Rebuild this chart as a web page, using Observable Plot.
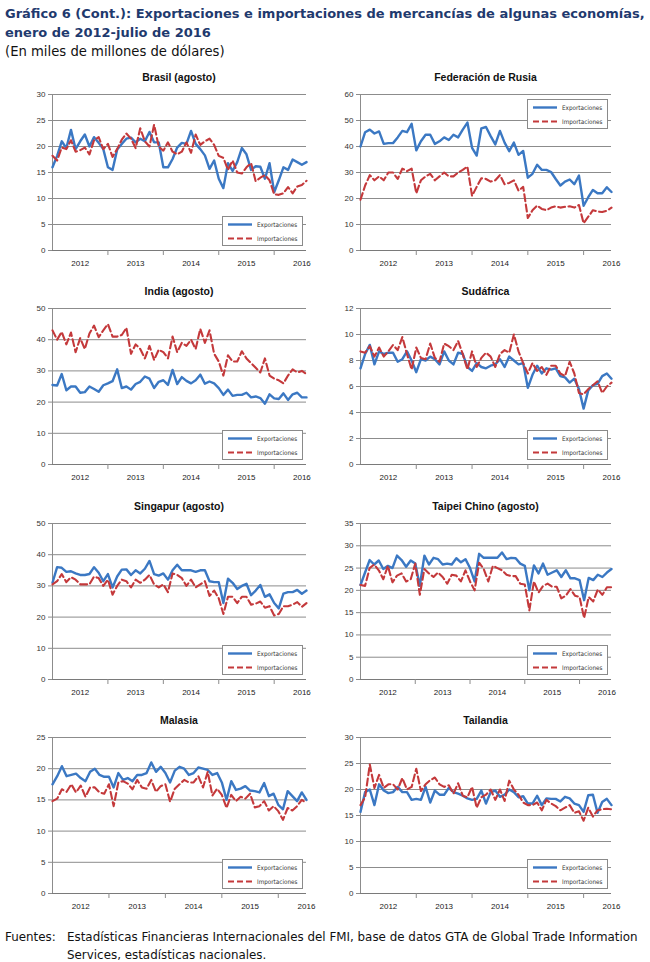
<!DOCTYPE html>
<html><head><meta charset="utf-8">
<script src="https://cdn.jsdelivr.net/npm/d3@7"></script>
<script src="https://cdn.jsdelivr.net/npm/@observablehq/plot@0.6"></script>
<style>
body{margin:0;background:#fff;}
#root{position:relative;width:650px;height:962px;overflow:hidden;background:#fff;}
.t{position:absolute;white-space:nowrap;}
.h1{left:5px;font-family:"DejaVu Sans",Verdana,sans-serif;font-weight:bold;color:#1F3A6E;font-size:13px;line-height:16px;}
.sub{left:5px;font-family:"DejaVu Sans",Verdana,sans-serif;color:#111;font-size:13.2px;line-height:16px;}
.ptitle{font-family:"Liberation Sans",Arial,sans-serif;font-weight:bold;font-size:10.5px;color:#111;text-align:center;line-height:12px;}
.foot{font-family:"DejaVu Sans",Verdana,sans-serif;font-size:11.9px;color:#111;line-height:16px;}
.leg{position:absolute;width:81px;height:30px;border:1px solid #8a8a8a;background:#fff;box-sizing:border-box;}
.panel{position:absolute;}
</style></head><body><div id="root"></div>
<script>
// ---------------- DATA ----------------
const yearLabels = ["2012","2013","2014","2015","2016"];
const seriesNames = ["Exportaciones","Importaciones"];

const brasilExp = [16.0,18.2,21.0,19.7,23.2,19.5,21.0,22.3,20.0,21.8,20.7,19.5,
  16.0,15.5,19.4,20.5,21.5,21.7,20.8,21.5,21.0,22.8,20.8,20.8,
  16.0,16.0,17.6,19.8,20.7,20.5,23.0,20.5,19.5,18.3,15.7,17.3,
  13.8,12.0,16.8,15.3,17.0,19.7,18.5,15.5,16.2,16.1,13.8,16.8,
  11.2,13.5,16.0,15.5,17.5,17.0,16.5,17.0];
const brasilImp = [18.2,17.3,19.8,19.5,21.2,19.0,19.3,19.8,18.5,21.2,21.8,19.5,
  20.5,18.0,19.5,21.3,22.5,21.5,19.7,23.5,21.0,20.0,24.2,20.0,
  19.2,20.8,19.0,18.5,19.0,20.8,18.8,22.3,20.3,21.0,21.5,20.3,
  18.2,17.8,15.5,17.3,15.0,14.8,16.0,16.8,13.3,14.0,14.5,13.5,
  10.8,10.7,11.0,12.2,11.0,12.3,12.6,13.4];
const brasilTicks = [0,5,10,15,20,25,30];

const rusiaExp = [40,45.5,46.5,45,45.8,41,41.3,41.3,43.5,46,45.5,48.7,
  38.5,42,44.5,44.5,41,42,43.5,42.5,44.5,43.5,46.5,49.2,
  39.5,36.5,47,47.5,44,40.8,46,41.5,38.2,41.5,36.8,38.3,
  28,29.5,33,31,31,30.2,27.5,25,26.5,27.3,25.5,28.8,
  17.2,20.5,23.3,22,22,24.3,22.5];
const rusiaImp = [19.5,25,29,27,28.5,27,30,30,27.5,31.5,30.5,31.5,
  22,27,28.5,29.5,27,28.5,30,28.5,28.5,30,31,32.3,
  21,24.5,27.8,27.5,26.5,27,29,25.5,26,27,23,24.5,
  12.5,15.5,17.3,16,15.5,16.5,17,16.5,16.8,17,16.5,17.5,
  10.5,13,15.5,15,14.8,15.3,16.5];
const rusiaTicks = [0,10,20,30,40,50,60];

const indiaExp = [25.5,25.3,29,23.8,25,25,23,23.2,25,24.2,23.3,25.4,
  26,26.7,30.5,24.5,25,24,25.8,26.5,28.2,27.5,24.5,26.5,
  27,25.5,30.3,25.8,28,26.8,26,27,28.8,25.9,26.6,26,
  24.5,22.3,24,22,22.3,22.3,23,21.5,21.8,21.3,19.5,22.5,
  21.2,21,22.8,20.7,22.5,23,21.5,21.5];
const indiaImp = [43,40,42.5,38.5,42.3,36,40.5,37,42,44.5,40.8,43,
  45,41,41,41.5,43.8,35.5,38.5,37,34,38,33.5,36.8,
  36,34,41,36,39,38,40,37,43.5,39,43,35.5,
  33,28.5,35,33,33,36.3,34,32.5,31,29.5,34,28.5,
  27.5,27,26,28.5,30.5,29.5,30,29];
const indiaTicks = [0,10,20,30,40,50];

const sudafricaExp = [7.4,8.5,9.2,7.7,8.7,8.5,8.6,8.6,7.9,8.1,8.7,8.0,
  7.1,8.1,8.0,8.3,8.1,7.7,8.7,8.0,7.7,8.6,8.5,7.5,
  7.2,7.8,7.5,7.4,7.6,7.7,8.1,7.5,8.3,8.0,7.7,7.8,
  5.9,6.9,7.6,7.0,7.4,7.3,7.4,6.8,6.7,6.3,6.6,5.8,
  4.3,5.7,6.1,6.2,6.8,7.0,6.6];
const sudafricaImp = [8.7,8.6,9.1,8.3,9.0,8.3,8.7,9.2,8.8,9.8,8.5,7.3,
  9.0,8.2,8.1,9.3,8.2,7.9,9.3,9.1,8.8,9.5,8.5,7.3,
  8.7,7.5,8.2,8.6,8.3,7.5,8.5,8.8,8.6,10.0,8.7,7.8,
  7.0,7.8,7.2,7.5,6.9,7.6,7.6,7.0,6.8,7.9,7.0,5.5,
  5.4,5.8,6.1,6.4,5.5,6.0,6.3];
const sudafricaTicks = [0,2,4,6,8,10,12];

const singapurExp = [31,36,35.8,34.5,34.7,34,33.5,33.5,33.8,36,34.2,31.5,
  33.8,29.5,33,35.2,35.3,33.5,35,34,35.5,38,33.8,33.3,
  34,32,35,36.8,35,35,35,34.5,35,35,31.5,31.2,
  31.2,24.5,32.3,31,29,30,30.7,27,28.5,30.3,26.5,27.3,
  24.5,22.8,27.5,28,28,28.7,27.5,28.5];
const singapurImp = [30.5,31.5,33.8,31.2,32.8,32,30.5,30.5,30.5,33,32.5,30,
  32,27.2,30,32,31.5,29.5,32,31,32,33.5,30.5,29.5,
  30.5,28,34,33.5,32.5,30,32,29.5,30.5,31.5,26.8,28.5,
  26,21,26.5,26.5,24.5,26.5,26.5,24,24.3,25,23,23.5,
  20.5,21,23.5,23.5,24,24.8,23.3,24.5];
const singapurTicks = [0,10,20,30,40,50];

const taipeiExp = [21.2,24,26.8,25.8,26.7,24.8,25.5,25,27.8,26.8,25.3,26.7,
  26,21,27.8,25.8,27.3,27,25.8,26,25.8,27.2,26.3,27,
  25,22,28.2,27.3,27.3,27.3,27.3,28.5,27,27.3,27.2,26,
  25.5,20,25.6,23.8,26,23.5,24,24.5,23,24.5,22.7,22.7,
  22.3,17.8,22.8,22.3,23.5,23,24,24.8];
const taipeiImp = [21.2,21,25,25.8,24.5,22.5,25.5,21.8,23.3,23.8,22,22.5,
  26,19,24.8,23.8,23,24,23,21.5,23.5,23.3,22,24.5,
  22,20,26.2,24.8,22,25.5,25,24.5,23.5,23.2,23.2,21.5,
  21.3,15.5,22,19.5,21,21.5,20.8,20.8,18.2,18.8,20.3,18.8,
  18.5,13.8,18.5,17.5,20.2,19,20.7,20.7];
const taipeiTicks = [0,5,10,15,20,25,30,35];

const malasiaExp = [17.5,18.8,20.4,18.8,19,19.2,18.5,18,19.5,20,19,18.7,
  18.7,17,19.3,18.2,18.5,18,19,19,19.3,21,19.5,20.3,
  19.3,17.8,19.7,20.3,20,19,19.3,20.2,20,19.8,19,19.3,
  17.8,15,18,16.6,16.8,17.2,16.5,16.4,16.2,17.7,15.6,16,
  14.2,13.5,16.4,15.6,14.8,16.2,15];
const malasiaImp = [14.8,15.2,16.7,16.3,17.5,16.2,17.3,15.5,17,17,16.2,16,
  17.5,14,17.8,18,17.6,16.7,18.2,17,16.8,18.2,16.3,17.2,
  17.5,14.7,16.8,17.5,18.2,17.8,17.8,18.8,17,19.5,15.7,16.8,
  15.8,13.7,15.8,14.8,15.5,15.2,16,13.8,14,14.8,13.3,14,
  13.2,11.8,13.7,13.3,14,15,14.5];
const malasiaTicks = [0,5,10,15,20,25];

const tailandiaExp = [15.7,19.5,20,17,21,19.8,19.3,19.5,20.5,19.5,19.5,18,
  18.2,18,20.5,17.5,19.8,19,19,20.3,19.5,19.2,18.8,18.3,
  18,18.2,19.8,17.3,19.5,19.8,18.6,19,20,19.5,18.5,18.7,
  17.3,17.3,18.8,17,18.3,18.2,18.2,17.7,18.6,18.3,17.3,17,
  15.7,18.9,19,15.5,17.6,18.2,17];
const tailandiaImp = [17,18.5,24.8,20.3,22.8,20.3,21,21,20,22.2,20,20.5,
  24,19.7,21,21.8,22.3,21,20.5,20.8,19.2,21.2,18.8,18.5,
  20.5,16.5,18.5,19,20,18,20,17.8,21.7,20,19,17.5,
  17,17,17.5,16,18,17.3,16.8,16,16.5,17,15.5,15.8,
  14,16.5,14.8,16,16.2,16.3,16.2];
const tailandiaTicks = [0,5,10,15,20,25,30];

const panelTitles = ["Brasil (agosto)","Federación de Rusia","India (agosto)","Sudáfrica",
  "Singapur (agosto)","Taipei Chino (agosto)","Malasia","Tailandia"];

// ---------------- LAYOUT ----------------
const BLUE = "#3B78C3", RED = "#C4393B", GRID = "#8c8c8c";
const root = document.getElementById("root");
function addText(cls, txt, left, top, extra) {
  const d = document.createElement("div");
  d.className = "t " + cls;
  d.textContent = txt;
  d.style.left = left + "px"; d.style.top = top + "px";
  if (extra) Object.assign(d.style, extra);
  root.appendChild(d);
  return d;
}
addText("h1", "Gráfico 6 (Cont.): Exportaciones e importaciones de mercancías de algunas economías,", 5, 6);
addText("h1", "enero de 2012-julio de 2016", 5, 25);
addText("sub", "(En miles de millones de dólares)", 5, 44);
addText("foot", "Fuentes:", 5, 929);
addText("foot", "Estadísticas Financieras Internacionales del FMI, base de datos GTA de Global Trade Information", 67, 929);
addText("foot", "Services, estadísticas nacionales.", 67, 947);

const panels = [
  [brasilExp, brasilImp, brasilTicks, false],
  [rusiaExp, rusiaImp, rusiaTicks, true],
  [indiaExp, indiaImp, indiaTicks, false],
  [sudafricaExp, sudafricaImp, sudafricaTicks, false],
  [singapurExp, singapurImp, singapurTicks, false],
  [taipeiExp, taipeiImp, taipeiTicks, false],
  [malasiaExp, malasiaImp, malasiaTicks, false],
  [tailandiaExp, tailandiaImp, tailandiaTicks, false]
];
const rowTops = [94, 308, 523, 737];
const plotH = 156, mTop = 8, mBot = 24;

panels.forEach(([exp, imp, ticks, legTop], k) => {
  const col = k % 2, row = Math.floor(k / 2);
  const left = col * 325;
  const mL = col === 0 ? 52 : 35;
  const mR = col === 0 ? 19 : 39;
  const W = 325;
  const N = exp.length;
  const plotTop = rowTops[row];
  const plotLeft = left + mL, plotRight = left + W - mR;
  const yMax = ticks[ticks.length - 1];
  const boundaries = yearLabels.slice(1).map((_, i) => 12 * (i + 1));
  const labelData = yearLabels.map((y, i) => ({label: y, x: Math.min(12 * i + 6, N - 1)}));
  const chart = Plot.plot({
    width: W, height: mTop + plotH + mBot,
    marginLeft: mL, marginRight: mR, marginTop: mTop, marginBottom: mBot,
    style: {fontFamily: "'Liberation Sans', Arial, sans-serif", fontSize: "8px", color: "#333", background: "transparent", overflow: "visible"},
    x: {domain: [0, N - 1], axis: null},
    y: {domain: [0, yMax], axis: null},
    marks: [
      Plot.gridY(ticks, {stroke: GRID, strokeOpacity: 1, strokeWidth: 1}),
      Plot.ruleX([0], {stroke: GRID, strokeWidth: 1}),
      Plot.ruleY([0], {stroke: "#7a7a7a", strokeWidth: 1}),
      Plot.axisY({ticks, tickSize: 4, tickPadding: 3, stroke: GRID, label: null, fontSize: 8, fill: "#333"}),
      Plot.axisX({ticks: boundaries, tickSize: 5, tickFormat: () => "", label: null, stroke: GRID}),
      Plot.text(labelData, {x: "x", y: () => 0, text: "label", dy: 13, fontSize: 8, fill: "#222", textAnchor: "middle"}),
      Plot.lineY(exp, {x: (d, i) => i, y: d => d, stroke: BLUE, strokeWidth: 2.4, strokeLinejoin: "round"}),
      Plot.lineY(imp, {x: (d, i) => i, y: d => d, stroke: RED, strokeWidth: 2.1, strokeDasharray: "7,3.5", strokeLinejoin: "round"})
    ]
  });
  const wrap = document.createElement("div");
  wrap.className = "panel";
  wrap.style.left = left + "px";
  wrap.style.top = (plotTop - mTop) + "px";
  wrap.appendChild(chart);
  root.appendChild(wrap);

  // panel title
  addText("ptitle", panelTitles[k], plotLeft, plotTop - 23, {width: (plotRight - plotLeft) + "px"});

  // legend box
  const leg = document.createElement("div");
  leg.className = "leg";
  leg.style.left = (plotRight - 84) + "px";
  leg.style.top = (legTop ? plotTop + 5 : plotTop + plotH - 34) + "px";
  const ns = "http://www.w3.org/2000/svg";
  const svg = document.createElementNS(ns, "svg");
  svg.setAttribute("width", 79); svg.setAttribute("height", 28);
  [[BLUE, null, 2.4], [RED, "6,3", 2.1]].forEach(([c, dash, sw], j) => {
    const yy = 7.5 + j * 14;
    const ln = document.createElementNS(ns, "line");
    ln.setAttribute("x1", 5); ln.setAttribute("x2", 29);
    ln.setAttribute("y1", yy); ln.setAttribute("y2", yy);
    ln.setAttribute("stroke", c); ln.setAttribute("stroke-width", sw);
    if (dash) ln.setAttribute("stroke-dasharray", dash);
    svg.appendChild(ln);
    const tx = document.createElementNS(ns, "text");
    tx.setAttribute("x", 34); tx.setAttribute("y", yy + 2.3);
    tx.setAttribute("font-size", 6.3);
    tx.setAttribute("font-family", "'DejaVu Sans Condensed', 'DejaVu Sans', sans-serif");
    tx.setAttribute("fill", "#333");
    tx.textContent = seriesNames[j];
    svg.appendChild(tx);
  });
  leg.appendChild(svg);
  root.appendChild(leg);
});
</script></body></html>
